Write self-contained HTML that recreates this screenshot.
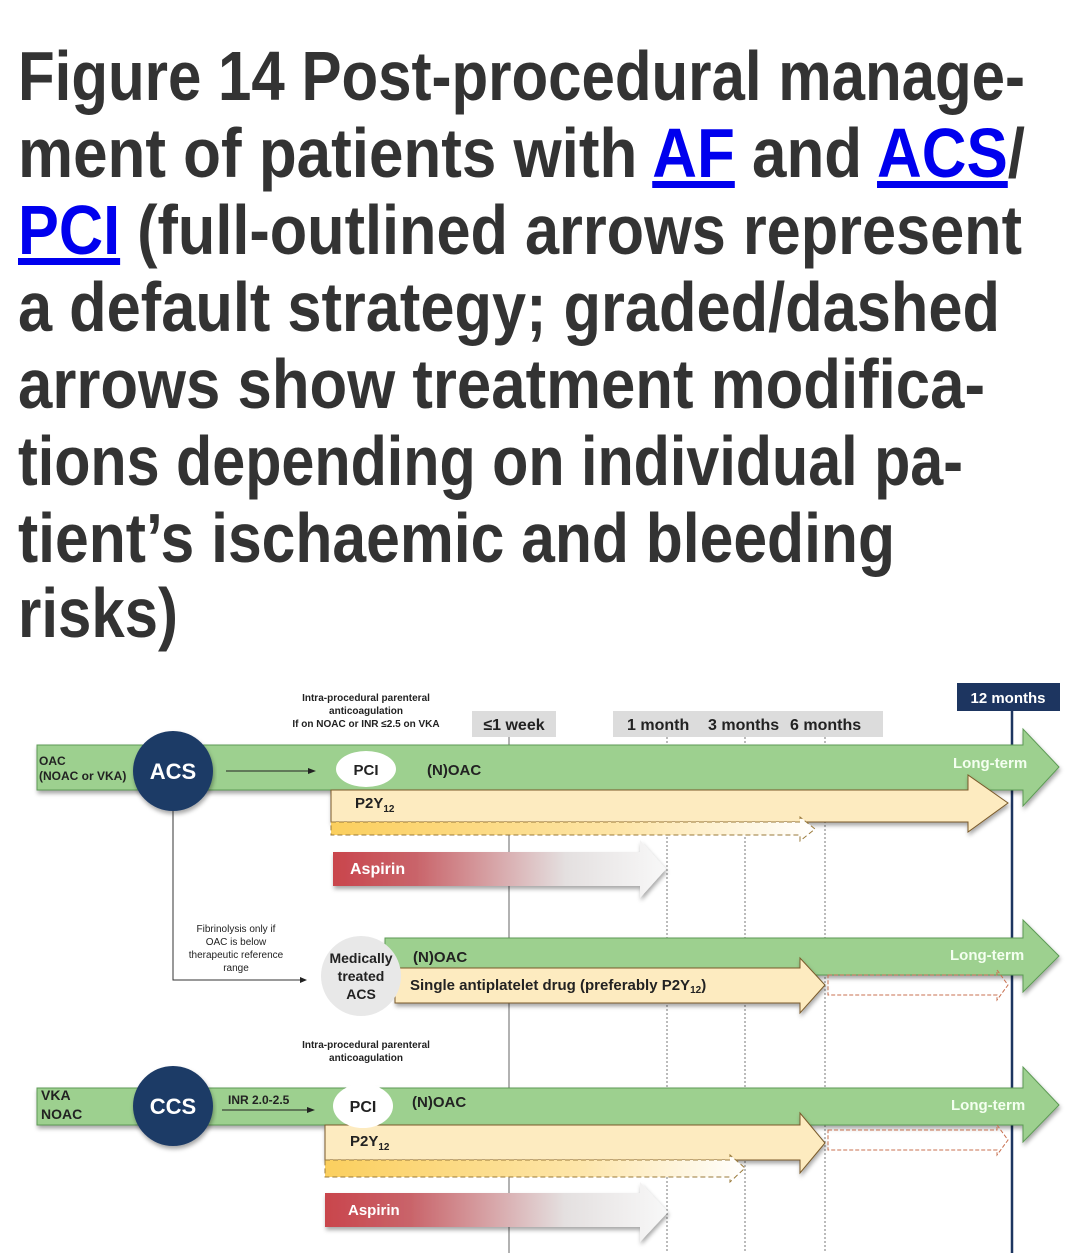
<!DOCTYPE html>
<html><head><meta charset="utf-8"><style>
html,body{margin:0;padding:0;background:#fff;}
svg{display:block;}
</style></head><body>
<svg width="1080" height="1253" viewBox="0 0 1080 1253" xmlns="http://www.w3.org/2000/svg" font-family="'Liberation Sans', sans-serif">
<defs>
<linearGradient id="asp" x1="0" x2="1" y1="0" y2="0">
<stop offset="0" stop-color="#c9454c"/><stop offset="0.25" stop-color="#c9646a"/><stop offset="0.7" stop-color="#e4e0e0"/><stop offset="1" stop-color="#f8f8f8"/></linearGradient>
<linearGradient id="org" x1="0" x2="1" y1="0" y2="0">
<stop offset="0" stop-color="#fbcf5e"/><stop offset="0.6" stop-color="#fde5a8"/><stop offset="1" stop-color="#fff"/></linearGradient>
<filter id="sh" x="-5%" y="-20%" width="110%" height="150%"><feDropShadow dx="1" dy="3" stdDeviation="2" flood-color="#000" flood-opacity="0.35"/></filter>
</defs>
<!-- Title -->
<g font-weight="bold" font-size="70" fill="#333">
<text x="18" y="100" textLength="1007" lengthAdjust="spacingAndGlyphs">Figure 14 Post-procedural manage-</text>
<text x="18" y="177" textLength="1007" lengthAdjust="spacingAndGlyphs">ment of patients with <tspan fill="#0000ee" text-decoration="underline">AF</tspan> and <tspan fill="#0000ee" text-decoration="underline">ACS</tspan>/</text>
<text x="18" y="254" textLength="1004" lengthAdjust="spacingAndGlyphs"><tspan fill="#0000ee" text-decoration="underline">PCI</tspan> (full-outlined arrows represent</text>
<text x="18" y="331" textLength="982" lengthAdjust="spacingAndGlyphs">a default strategy; graded/dashed</text>
<text x="18" y="408" textLength="967" lengthAdjust="spacingAndGlyphs">arrows show treatment modifica-</text>
<text x="18" y="485" textLength="945" lengthAdjust="spacingAndGlyphs">tions depending on individual pa-</text>
<text x="18" y="562" textLength="877" lengthAdjust="spacingAndGlyphs">tient’s ischaemic and bleeding</text>
<text x="18" y="637" textLength="160" lengthAdjust="spacingAndGlyphs">risks)</text>
</g>

<!-- header labels -->
<g font-size="10" font-weight="bold" fill="#222" text-anchor="middle">
<text x="366" y="701">Intra-procedural parenteral</text>
<text x="366" y="714">anticoagulation</text>
<text x="366" y="727">If on NOAC or INR ≤2.5 on VKA</text>
</g>
<rect x="472" y="711" width="84" height="26" fill="#dcdcdc"/>
<text x="514" y="730" font-size="16" font-weight="bold" fill="#222" text-anchor="middle">≤1 week</text>
<rect x="613" y="711" width="270" height="26" fill="#dcdcdc"/>
<text x="627" y="730" font-size="16" font-weight="bold" fill="#222">1 month</text>
<text x="708" y="730" font-size="16" font-weight="bold" fill="#222">3 months</text>
<text x="790" y="730" font-size="16" font-weight="bold" fill="#222">6 months</text>
<rect x="957" y="683" width="103" height="28" fill="#1d3560"/>
<text x="1008" y="703" font-size="15" font-weight="bold" fill="#fff" text-anchor="middle">12 months</text>

<!-- vertical lines -->
<line x1="509" y1="737" x2="509" y2="1253" stroke="#666" stroke-width="1"/>
<line x1="667" y1="737" x2="667" y2="1253" stroke="#777" stroke-width="1" stroke-dasharray="2,2"/>
<line x1="745" y1="737" x2="745" y2="1253" stroke="#777" stroke-width="1" stroke-dasharray="2,2"/>
<line x1="825" y1="737" x2="825" y2="1253" stroke="#777" stroke-width="1" stroke-dasharray="2,2"/>
<line x1="1012" y1="710" x2="1012" y2="1253" stroke="#1d3560" stroke-width="2.5"/>

<!-- Row 1 -->
<polygon filter="url(#sh)" points="37,745 1023,745 1023,729 1059,767 1023,806 1023,790 37,790" fill="#9dd08f" stroke="#5d9a55" stroke-width="1"/>
<text x="39" y="765" font-size="12" font-weight="bold" fill="#222">OAC</text>
<text x="39" y="780" font-size="12" font-weight="bold" fill="#222">(NOAC or VKA)</text>
<text x="953" y="768" font-size="15" font-weight="bold" fill="#f4fff0">Long-term</text>
<polygon filter="url(#sh)" points="331,790 968,790 968,775 1008,803 968,832 968,822 331,822" fill="#fdebc0" stroke="#7a5a2a" stroke-width="1"/>
<polygon points="331,822 800,822 800,817 815,829 800,841 800,835 331,835" fill="url(#org)" stroke="#9a7a3a" stroke-width="1" stroke-dasharray="5,3"/>
<text x="355" y="808" font-size="15" font-weight="bold" fill="#222">P2Y<tspan font-size="10" dy="4">12</tspan></text>
<polygon filter="url(#sh)" points="333,852 640,852 640,840 666,869 640,898 640,886 333,886" fill="url(#asp)"/>
<text x="350" y="874" font-size="16" font-weight="bold" fill="#fff">Aspirin</text>
<circle cx="173" cy="771" r="40" fill="#1d3a66" filter="url(#sh)"/>
<text x="173" y="779" font-size="22" font-weight="bold" fill="#fff" text-anchor="middle">ACS</text>
<line x1="226" y1="771" x2="312" y2="771" stroke="#222" stroke-width="1"/>
<polygon points="316,771 308,768 308,774" fill="#222"/>
<ellipse cx="366" cy="769" rx="30" ry="18" fill="#fff"/>
<text x="366" y="775" font-size="15" font-weight="bold" fill="#222" text-anchor="middle">PCI</text>
<text x="427" y="775" font-size="15" font-weight="bold" fill="#222">(N)OAC</text>

<!-- connector -->
<polyline points="173,811 173,980 302,980" fill="none" stroke="#333" stroke-width="1"/>
<polygon points="307,980 300,977 300,983" fill="#222"/>
<g font-size="10" fill="#222" text-anchor="middle">
<text x="236" y="932">Fibrinolysis only if</text>
<text x="236" y="945">OAC is below</text>
<text x="236" y="958">therapeutic reference</text>
<text x="236" y="971">range</text>
</g>

<!-- Row 2 -->
<polygon filter="url(#sh)" points="385,938 1023,938 1023,920 1059,956 1023,992 1023,975 385,975" fill="#9dd08f" stroke="#5d9a55" stroke-width="1"/>
<text x="950" y="960" font-size="15" font-weight="bold" fill="#f4fff0">Long-term</text>
<polygon points="828,975 997,975 997,970 1008,985 997,1000 997,995 828,995" fill="none" stroke="#c87050" stroke-width="1" stroke-dasharray="4,2"/>
<polygon filter="url(#sh)" points="395,968 800,968 800,958 825,985 800,1013 800,1003 395,1003" fill="#fdebc0" stroke="#7a5a2a" stroke-width="1"/>
<text x="410" y="990" font-size="15" font-weight="bold" fill="#222">Single antiplatelet drug (preferably P2Y<tspan font-size="10" dy="3">12</tspan><tspan dy="-3">)</tspan></text>
<circle cx="361" cy="976" r="40" fill="#e8e8e8"/>
<g font-size="14" font-weight="bold" fill="#222" text-anchor="middle">
<text x="361" y="963">Medically</text>
<text x="361" y="981">treated</text>
<text x="361" y="999">ACS</text>
</g>
<text x="413" y="962" font-size="15" font-weight="bold" fill="#222">(N)OAC</text>

<g font-size="10" font-weight="bold" fill="#222" text-anchor="middle">
<text x="366" y="1048">Intra-procedural parenteral</text>
<text x="366" y="1061">anticoagulation</text>
</g>

<!-- Row 3 -->
<polygon filter="url(#sh)" points="37,1088 1023,1088 1023,1067 1059,1105 1023,1142 1023,1125 37,1125" fill="#9dd08f" stroke="#5d9a55" stroke-width="1"/>
<text x="41" y="1100" font-size="14" font-weight="bold" fill="#222">VKA</text>
<text x="41" y="1119" font-size="14" font-weight="bold" fill="#222">NOAC</text>
<text x="951" y="1110" font-size="15" font-weight="bold" fill="#f4fff0">Long-term</text>
<polygon points="828,1130 997,1130 997,1125 1008,1140 997,1155 997,1150 828,1150" fill="none" stroke="#c87050" stroke-width="1" stroke-dasharray="4,2"/>
<polygon filter="url(#sh)" points="325,1125 800,1125 800,1113 825,1143 800,1173 800,1160 325,1160" fill="#fdebc0" stroke="#7a5a2a" stroke-width="1"/>
<polygon points="325,1160 730,1160 730,1155 745,1168 730,1182 730,1177 325,1177" fill="url(#org)" stroke="#9a7a3a" stroke-width="1" stroke-dasharray="5,3"/>
<text x="350" y="1146" font-size="15" font-weight="bold" fill="#222">P2Y<tspan font-size="10" dy="4">12</tspan></text>
<polygon filter="url(#sh)" points="325,1193 640,1193 640,1182 668,1212 640,1242 640,1227 325,1227" fill="url(#asp)"/>
<text x="348" y="1215" font-size="15" font-weight="bold" fill="#fff">Aspirin</text>
<circle cx="173" cy="1106" r="40" fill="#1d3a66" filter="url(#sh)"/>
<text x="173" y="1114" font-size="22" font-weight="bold" fill="#fff" text-anchor="middle">CCS</text>
<text x="228" y="1104" font-size="12" font-weight="bold" fill="#222">INR 2.0-2.5</text>
<line x1="222" y1="1110" x2="311" y2="1110" stroke="#222" stroke-width="1"/>
<polygon points="315,1110 307,1107 307,1113" fill="#222"/>
<ellipse cx="363" cy="1106" rx="30" ry="22" fill="#fff"/>
<text x="363" y="1112" font-size="16" font-weight="bold" fill="#222" text-anchor="middle">PCI</text>
<text x="412" y="1107" font-size="15" font-weight="bold" fill="#222">(N)OAC</text>
</svg>
</body></html>
